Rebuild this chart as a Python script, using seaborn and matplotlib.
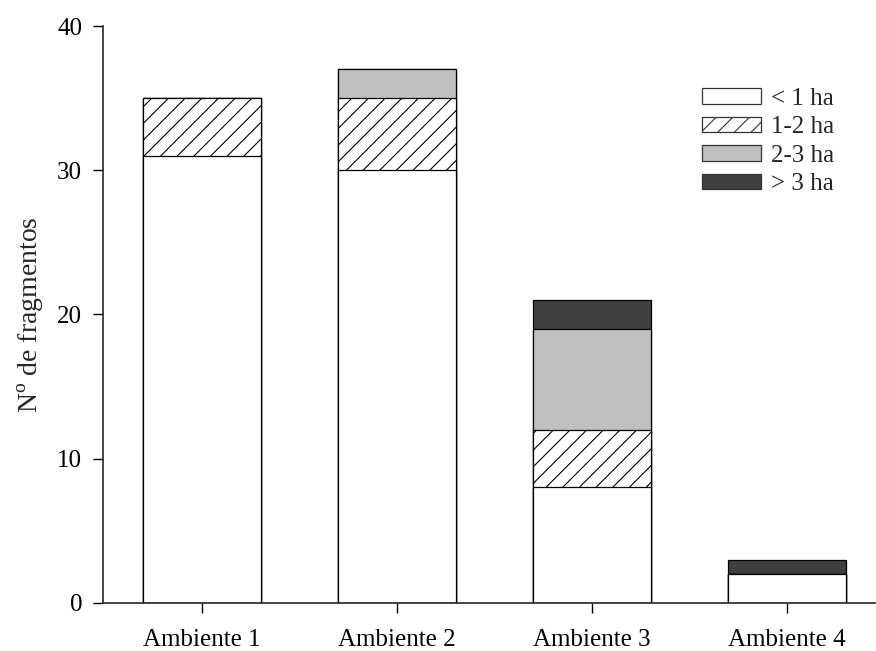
""" Fragmentos por ambiente, barras apiladas por clase de area """

import pandas as pd
import matplotlib.pyplot as plt
import seaborn as sns
import numpy as np
from matplotlib.patches import Patch

ambientes = ["Ambiente 1", "Ambiente 2", "Ambiente 3", "Ambiente 4"]
clases = ["< 1 ha", "1-2 ha", "2-3 ha", "> 3 ha"]
menos_1 = [31, 30, 8, 2]
de_1_2 = [4, 5, 4, 0]
de_2_3 = [0, 2, 7, 0]
mas_3 = [0, 0, 2, 1]

sns.set_style("ticks")
plt.rcParams["font.family"] = ["Liberation Serif", "DejaVu Serif"]
plt.rcParams["hatch.linewidth"] = 0.8

df = pd.DataFrame({"ambiente": ambientes, "< 1 ha": menos_1, "1-2 ha": de_1_2,
                   "2-3 ha": de_2_3, "> 3 ha": mas_3})
cum = df[clases].cumsum(axis=1)

estilos = {"< 1 ha": ("white", ""), "1-2 ha": ("white", "//"),
           "2-3 ha": ("#c0c0c0", ""), "> 3 ha": ("#404040", "")}

fig = plt.figure(figsize=(8.76, 6.51), dpi=100)
ax = fig.add_axes([0.1176, 0.074, 0.881, 0.886])

# draw cumulative totals from the top class down so each layer covers the one below
for c in clases[::-1]:
    color, hatch = estilos[c]
    sns.barplot(x=df["ambiente"], y=cum[c], color=color, width=0.605,
                edgecolor="black", linewidth=0.9, hatch=hatch, saturation=1, ax=ax)

ax.set_ylim(0, 40)
ax.set_yticks([0, 10, 20, 30, 40])
ax.set_xlim(-0.508, 3.45)
ax.set_xlabel("")
ax.set_ylabel("N$^{\\mathregular{o}}$ de fragmentos", fontsize=20, labelpad=8)
ax.tick_params(axis="both", labelsize=18, direction="out", length=7, width=1, colors="black")
ax.tick_params(axis="y", pad=8)
ax.tick_params(axis="x", pad=12)
for s in ["top", "right"]:
    ax.spines[s].set_visible(False)
for s in ["left", "bottom"]:
    ax.spines[s].set_linewidth(1.2)

handles = [Patch(facecolor=estilos[c][0], edgecolor="#333333", hatch=estilos[c][1],
                 linewidth=0.9, label=c) for c in clases]
ax.legend(handles=handles, loc="upper left", bbox_to_anchor=(0.776, 0.893), frameon=False,
          fontsize=18, handlelength=2.36, handleheight=0.56, handletextpad=0.4,
          labelspacing=0.26, borderpad=0, borderaxespad=0)

plt.savefig("out.png", dpi=100)
